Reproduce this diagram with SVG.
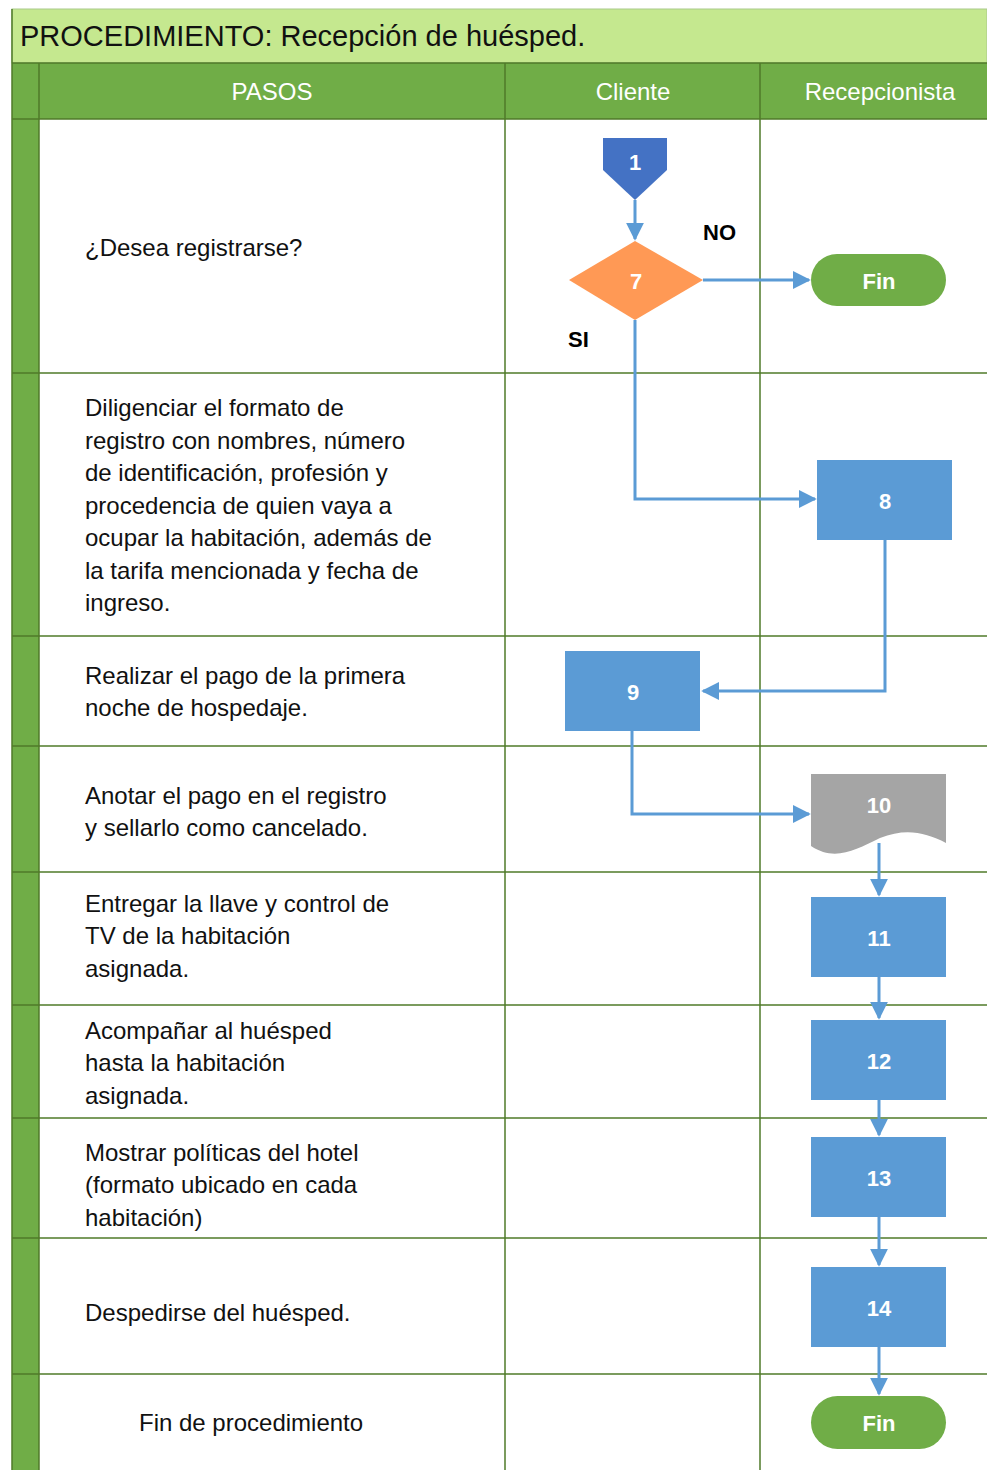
<svg xmlns="http://www.w3.org/2000/svg" width="987" height="1470" viewBox="0 0 987 1470">
  <style>
    .grid { stroke: #4f7a28; stroke-width: 1.5; fill: none; }
    .step { font-family: "Liberation Sans", Arial, sans-serif; font-size: 24px; fill: #111; }
    .head { font-family: "Liberation Sans", Arial, sans-serif; font-size: 24px; fill: #fff; text-anchor: middle; }
    .lbl { font-family: "Liberation Sans", Arial, sans-serif; font-size: 22px; font-weight: bold; fill: #fff; text-anchor: middle; dominant-baseline: central; }
    .cond { font-family: "Liberation Sans", Arial, sans-serif; font-size: 22px; font-weight: bold; fill: #000; }
    .proc { fill: #5b9bd5; }
    .term { fill: #70ad47; }
    .conn { stroke: #5b9bd5; stroke-width: 3; fill: none; marker-end: url(#arrow); }
  </style>
  <defs>
    <marker id="arrow" viewBox="0 0 10 10" refX="9" refY="5" markerWidth="6" markerHeight="6" markerUnits="strokeWidth" orient="auto">
      <path d="M0,0 L10,5 L0,10 Z" fill="#5b9bd5"/>
    </marker>
  </defs>

  <rect width="987" height="1470" fill="#fff"/>

  <!-- title band -->
  <g id="title">
    <rect x="12" y="9" width="975" height="54" fill="#c5e88f" stroke="#a9c98a" stroke-width="1"/>
    <text x="20" y="46" font-family="Liberation Sans, Arial, sans-serif" font-size="29" fill="#111">PROCEDIMIENTO: Recepción de huésped.</text>
  </g>

  <!-- header row -->
  <g id="header">
    <rect x="12" y="63" width="975" height="56" fill="#70ad47"/>
    <text class="head" x="272" y="100">PASOS</text>
    <text class="head" x="633" y="100">Cliente</text>
    <text class="head" x="880" y="100">Recepcionista</text>
  </g>

  <!-- table frame -->
  <g id="table">
    <rect x="12" y="63" width="27" height="1407" fill="#70ad47"/>
    <line class="grid" x1="12" y1="9" x2="12" y2="1470"/>
    <line class="grid" x1="39" y1="63" x2="39" y2="1470"/>
    <line class="grid" x1="505" y1="63" x2="505" y2="1470"/>
    <line class="grid" x1="760" y1="63" x2="760" y2="1470"/>
    <line class="grid" x1="12" y1="63" x2="987" y2="63"/>
    <line class="grid" x1="12" y1="119" x2="987" y2="119"/>
    <line class="grid" x1="12" y1="373" x2="987" y2="373"/>
    <line class="grid" x1="12" y1="636" x2="987" y2="636"/>
    <line class="grid" x1="12" y1="746" x2="987" y2="746"/>
    <line class="grid" x1="12" y1="872" x2="987" y2="872"/>
    <line class="grid" x1="12" y1="1005" x2="987" y2="1005"/>
    <line class="grid" x1="12" y1="1118" x2="987" y2="1118"/>
    <line class="grid" x1="12" y1="1238" x2="987" y2="1238"/>
    <line class="grid" x1="12" y1="1374" x2="987" y2="1374"/>
  </g>

  <!-- step descriptions -->
  <g id="steps">
    <text class="step" x="85" y="256">¿Desea registrarse?</text>
    <text class="step" x="85" y="416">Diligenciar el formato de</text>
    <text class="step" x="85" y="449">registro con nombres, número</text>
    <text class="step" x="85" y="481">de identificación, profesión y</text>
    <text class="step" x="85" y="514">procedencia de quien vaya a</text>
    <text class="step" x="85" y="546">ocupar la habitación, además de</text>
    <text class="step" x="85" y="579">la tarifa mencionada y fecha de</text>
    <text class="step" x="85" y="611">ingreso.</text>
    <text class="step" x="85" y="684">Realizar el pago de la primera</text>
    <text class="step" x="85" y="716">noche de hospedaje.</text>
    <text class="step" x="85" y="804">Anotar el pago en el registro</text>
    <text class="step" x="85" y="836">y sellarlo como cancelado.</text>
    <text class="step" x="85" y="912">Entregar la llave y control de</text>
    <text class="step" x="85" y="944">TV de la habitación</text>
    <text class="step" x="85" y="977">asignada.</text>
    <text class="step" x="85" y="1039">Acompañar al huésped</text>
    <text class="step" x="85" y="1071">hasta la habitación</text>
    <text class="step" x="85" y="1104">asignada.</text>
    <text class="step" x="85" y="1161">Mostrar políticas del hotel</text>
    <text class="step" x="85" y="1193">(formato ubicado en cada</text>
    <text class="step" x="85" y="1226">habitación)</text>
    <text class="step" x="85" y="1321">Despedirse del huésped.</text>
    <text class="step" x="139" y="1431">Fin de procedimiento</text>
  </g>

  <!-- connectors -->
  <g id="connectors">
    <path class="conn" d="M635,200 V239"/>
    <path class="conn" d="M703,280 H809"/>
    <path class="conn" d="M635,320 V499 H815"/>
    <path class="conn" d="M885,540 V691 H703"/>
    <path class="conn" d="M632,731 V814 H809"/>
    <path class="conn" d="M879,843 V895"/>
    <path class="conn" d="M879,977 V1018"/>
    <path class="conn" d="M879,1100 V1135"/>
    <path class="conn" d="M879,1217 V1265"/>
    <path class="conn" d="M879,1347 V1394"/>
    <text class="cond" x="703" y="240">NO</text>
    <text class="cond" x="568" y="347">SI</text>
  </g>

  <!-- nodes -->
  <g id="node-1">
    <path d="M603,138 H667 V170 L635,200 L603,170 Z" fill="#4472c4"/>
    <text class="lbl" x="635" y="162">1</text>
  </g>
  <g id="node-7">
    <path d="M635,241 L703,280 L635,320 L569,280 Z" fill="#ff9955"/>
    <text class="lbl" x="636" y="281">7</text>
  </g>
  <g id="node-fin-1">
    <rect class="term" x="811" y="254" width="135" height="52" rx="26"/>
    <text class="lbl" x="879" y="281">Fin</text>
  </g>
  <g id="node-8">
    <rect class="proc" x="817" y="460" width="135" height="80"/>
    <text class="lbl" x="885" y="501">8</text>
  </g>
  <g id="node-9">
    <rect class="proc" x="565" y="651" width="135" height="80"/>
    <text class="lbl" x="633" y="692">9</text>
  </g>
  <g id="node-10">
    <path d="M811,774 H946 V843 C925,832 905,828 880,838 C855,850 835,862 811,846 Z" fill="#a5a5a5"/>
    <text class="lbl" x="879" y="805">10</text>
  </g>
  <g id="node-11">
    <rect class="proc" x="811" y="897" width="135" height="80"/>
    <text class="lbl" x="879" y="938">11</text>
  </g>
  <g id="node-12">
    <rect class="proc" x="811" y="1020" width="135" height="80"/>
    <text class="lbl" x="879" y="1061">12</text>
  </g>
  <g id="node-13">
    <rect class="proc" x="811" y="1137" width="135" height="80"/>
    <text class="lbl" x="879" y="1178">13</text>
  </g>
  <g id="node-14">
    <rect class="proc" x="811" y="1267" width="135" height="80"/>
    <text class="lbl" x="879" y="1308">14</text>
  </g>
  <g id="node-fin-2">
    <rect class="term" x="811" y="1396" width="135" height="53" rx="26.5"/>
    <text class="lbl" x="879" y="1423">Fin</text>
  </g>
</svg>
